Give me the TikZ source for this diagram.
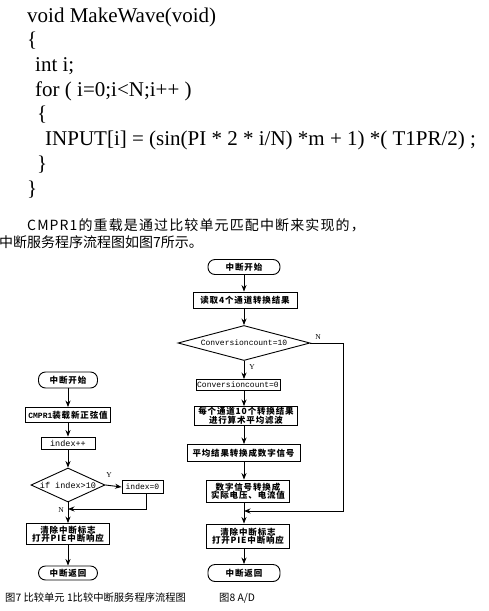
\documentclass[tikz,border=0pt]{standalone}
\usepackage{fontspec}
\setmainfont{Liberation Serif}
\newfontfamily\cjk{Noto Sans CJK SC}
\newfontfamily\cjkls[LetterSpace=10]{Noto Sans CJK SC}
\newfontfamily\cjkpara[LetterSpace=8]{Noto Sans CJK SC}
\newfontfamily\monof{Liberation Mono}
\usetikzlibrary{shapes.geometric,arrows.meta}
\tikzset{
  codeline/.style={anchor=base west, inner sep=0pt, font=\fontsize{21}{24}\selectfont},
  paraline/.style={anchor=base west, inner sep=0pt},
  fbox/.style={draw, line width=0.9pt, inner sep=1pt, align=center,
    font=\cjkls\bfseries\fontsize{8.5}{10.5}\selectfont},
  term/.style={fbox, rounded corners=7pt},
  dia/.style={draw, line width=0.9pt, diamond, inner sep=0pt, aspect=2.2},
  arr/.style={line width=0.9pt, -{Stealth[length=6.5pt,width=5pt]}},
  ln/.style={line width=0.9pt},
  lbl/.style={inner sep=0pt, font=\fontsize{7.5}{8}\selectfont},
  capt/.style={anchor=base west, inner sep=0pt, font=\cjk\fontsize{10.3}{12}\selectfont}
}
\begin{document}
\begin{tikzpicture}[x=1pt,y=-1pt]
\useasboundingbox (0,0) rectangle (488,611);
\fill[white] (0,0) rectangle (488,611);

% code
\node[codeline] (c1) at (27,22) {void MakeWave(void)};
\node[codeline] (c2) at (27,46.7) {\{};
\node[codeline] (c3) at (35,71.4) {int i;};
\node[codeline] (c4) at (35,96) {for ( i=0;i<N;i++ )};
\node[codeline] (c5) at (37,120.8) {\{};
\node[codeline] (c6) at (45,145.5) {INPUT[i] = (sin(PI * 2 * i/N) *m + 1) *( T1PR/2) ;};
\node[codeline] (c7) at (37,170) {\}};
\node[codeline] (c8) at (27,195) {\}};

% paragraph
\node[paraline, font=\cjkpara\fontsize{14}{16}\selectfont] (p1) at (27,230) {CMPR1的重载是通过比较单元匹配中断来实现的，};
\node[paraline, font=\cjk\fontsize{14}{16}\selectfont] (p2) at (-1,247) {中断服务程序流程图如图7所示。};

% left flowchart
\node[term, minimum width=59pt, minimum height=16pt] (L1) at (68,380) {中断开始};
\node[fbox, minimum width=85pt, minimum height=15pt] (L2) at (68,415) {{\monof\fontsize{8}{9}\selectfont CMPR1}装载新正弦值};
\node[fbox, minimum width=54pt, minimum height=12pt, font=\monof\fontsize{8.5}{9}\selectfont] (L3) at (68,443) {index++};
\node[dia, minimum width=74pt, minimum height=34pt, font=\monof\fontsize{8.5}{9}\selectfont] (L4) at (68,485) {if index>10};
\node[fbox, minimum width=41pt, minimum height=13pt, font=\monof\fontsize{8}{9}\selectfont] (L5) at (142.5,487) {index=0};
\node[fbox, minimum width=83pt, minimum height=21pt] (L6) at (68,534) {清除中断标志\\[-2pt]打开PIE中断响应};
\node[term, minimum width=59pt, minimum height=14pt] (L7) at (68,573) {中断返回};
\coordinate (J1) at (68,509);
\coordinate (K1) at (146,509);

\draw[arr] (L1.south) -- (L1.south |- L2.north);
\draw[arr] (L2.south) -- (L2.south |- L3.north);
\draw[arr] (L3.south) -- (L3.south |- L4.north);
\draw[arr] (L4.east) -- (L5.west);
\draw[arr] (L5.south -| K1) -- (K1) -- (J1);
\draw[arr] (L4.south) -- (L4.south |- L6.north);
\draw[arr] (L6.south) -- (L6.south |- L7.north);
\node[lbl] (yL) at (109,475) {Y};
\node[lbl] (nL) at (61,510) {N};

% right flowchart
\node[term, minimum width=72pt, minimum height=15pt] (R1) at (244,267) {中断开始};
\node[fbox, minimum width=104pt, minimum height=16pt] (R2) at (245,300) {读取4个通道转换结果};
\node[dia, minimum width=132pt, minimum height=35pt, aspect=3.6, font=\monof\fontsize{8}{9}\selectfont] (R3) at (244,343) {Conversioncount=10};
\node[fbox, minimum width=84pt, minimum height=11pt, inner sep=0.5pt, font=\monof\fontsize{8}{9}\selectfont] (R4) at (238,385) {Conversioncount=0};
\node[fbox, minimum width=103pt, minimum height=19pt] (R5) at (246,416) {每个通道10个转换结果\\[-2pt]进行算术平均滤波};
\node[fbox, minimum width=113pt, minimum height=17pt] (R6) at (243.5,453) {平均结果转换成数字信号};
\node[fbox, minimum width=83pt, minimum height=22pt] (R7) at (248,491) {数字信号转换成\\[-2pt]实际电压、电流值};
\node[fbox, minimum width=83pt, minimum height=24pt] (R8) at (248,536) {清除中断标志\\[-2pt]打开PIE中断响应};
\node[term, minimum width=72pt, minimum height=17pt] (R9) at (244,573) {中断返回};
\coordinate (J2) at (244,511);
\coordinate (K2) at (343,511);

\draw[arr] (R1.south) -- (R1.south |- R2.north);
\draw[arr] (R2.south -| R1) -- (R1 |- R3.north);
\draw[arr] (R3.south) -- (R3.south |- R4.north);
\draw[arr] (R4.south -| R3) -- (R3 |- R5.north);
\draw[arr] (R5.south -| R3) -- (R3 |- R6.north);
\draw[arr] (R6.south -| R3) -- (R3 |- R7.north);
\draw[arr] (R3.east) -| (K2) -- (J2);
\draw[arr] (R7.south -| R3) -- (R3 |- R8.north);
\draw[arr] (R8.south -| R3) -- (R3 |- R9.north);
\node[lbl] (nR) at (318,337) {N};
\node[lbl] (yR) at (252,367) {Y};

% captions
\node[capt] (cap7) at (5,601) {图7 比较单元 1比较中断服务程序流程图};
\node[capt] (cap8) at (219,601) {图8 A/D};
\end{tikzpicture}
\end{document}
